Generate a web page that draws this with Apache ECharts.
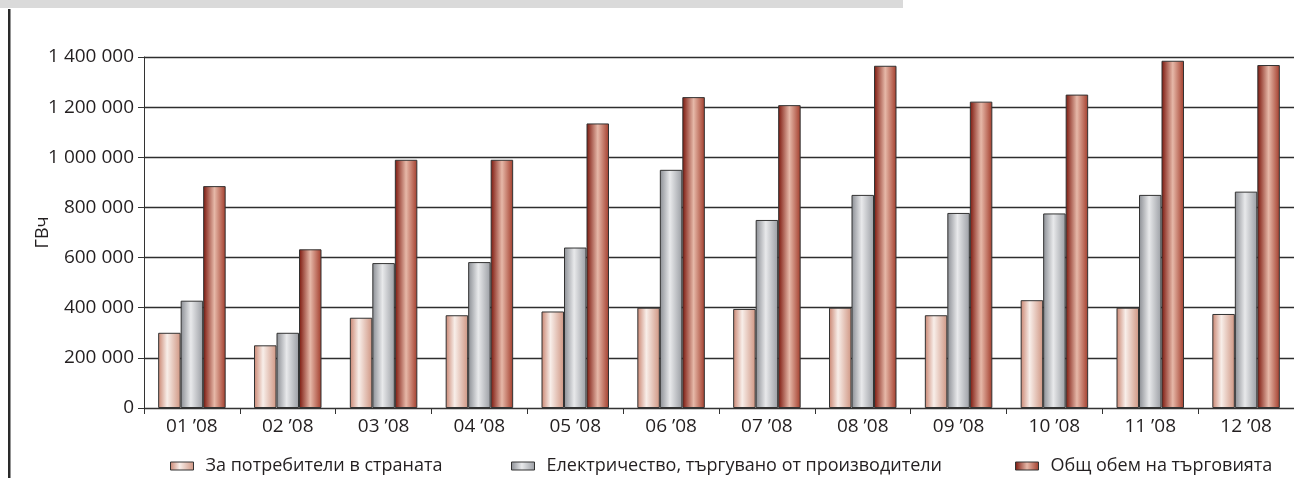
<!DOCTYPE html>
<html><head><meta charset="utf-8">
<script src="https://cdn.jsdelivr.net/npm/echarts@6/dist/echarts.min.js"></script>
<style>html,body{margin:0;padding:0;background:#fff}#c{width:1294px;height:478px}</style>
</head><body><div id="c"></div>
<script>
const categories = ["01 ’08","02 ’08","03 ’08","04 ’08","05 ’08","06 ’08","07 ’08","08 ’08","09 ’08","10 ’08","11 ’08","12 ’08"];
const seriesNames = ["За потребители в страната","Електричество, търгувано от производители","Общ обем на търговията"];
const domestic = [300000,250000,360000,370000,385000,400000,395000,400000,370000,430000,400000,375000];
const producers = [428000,300000,578000,582000,640000,950000,750000,850000,778000,776000,850000,863000];
const total = [885000,633000,990000,990000,1135000,1240000,1208000,1365000,1222000,1250000,1385000,1368000];
const yTicks = [0,200000,400000,600000,800000,1000000,1200000,1400000];

function grad(stops){return new echarts.graphic.LinearGradient(0,0,1,0,stops.map(s=>({offset:s[0],color:s[1]})));}
const colors = [
  grad([[0,'#c98470'],[0.4,'#f8eee9'],[1,'#cf9582']]),
  grad([[0,'#8a8d93'],[0.45,'#e8e9eb'],[1,'#9a9da3']]),
  grad([[0,'#7a150b'],[0.5,'#e6b8a8'],[1,'#a23c2b']])
];
const F = 'Open Sans';
const TXT = '#231f20';
const chart = echarts.init(document.getElementById('c'));
const data = [domestic, producers, total];
chart.setOption({
  animation:false,
  textStyle:{fontFamily:F},
  graphic:[
    {type:'rect',shape:{x:0,y:0,width:903,height:8},style:{fill:'#dadada'}},
    {type:'rect',shape:{x:8,y:9,width:2.5,height:469},style:{fill:'#2a2a2a'}}
  ],
  grid:{left:144,right:0,top:57,bottom:70},
  legend: seriesNames.map((n,i)=>({
    data:[n], left:[165,506,1010][i], top:452, itemWidth:23, itemHeight:8, itemGap:10,
    textStyle:{fontFamily:F,fontSize:18,color:TXT,padding:[0,0,0,7]}, icon:'rect',
    itemStyle:{borderColor:'#333',borderWidth:1}
  })),
  xAxis:{type:'category',data:categories,
    axisLine:{lineStyle:{color:'#333',width:1}},
    axisTick:{show:true,length:6,lineStyle:{color:'#333'}},
    axisLabel:{fontFamily:F,fontSize:19,color:TXT,margin:9}},
  yAxis:{type:'value',min:0,max:1400000,interval:200000,
    name:'ГВч',nameLocation:'middle',nameGap:92,nameRotate:90,nameMoveOverlap:false,
    nameTextStyle:{fontFamily:F,fontSize:18,color:TXT},
    axisLine:{show:true,lineStyle:{color:'#333',width:1}},
    axisTick:{show:true,length:6,lineStyle:{color:'#333'}},
    splitLine:{lineStyle:{color:'#2e2e2e',width:1.3}},
    axisLabel:{fontFamily:F,fontSize:19,color:TXT,margin:10,
      formatter:v=>yTicks.includes(v)?String(v).replace(/\B(?=(\d{3})+(?!\d))/g,' '):''}},
  series: data.map((d,i)=>({
    name:seriesNames[i],type:'bar',data:d,barWidth:22.5,barGap:'0%',
    itemStyle:{color:colors[i],borderColor:'#333',borderWidth:1}
  }))
});
</script></body></html>
